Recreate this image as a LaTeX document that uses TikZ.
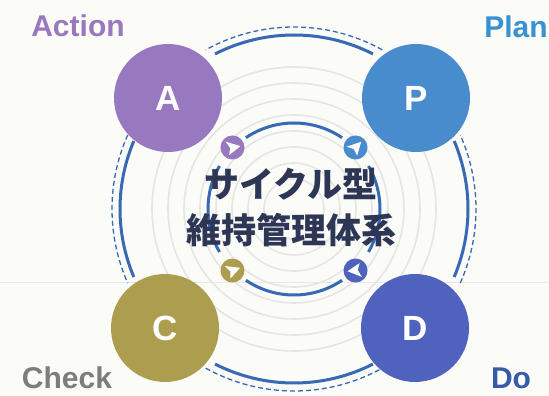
\documentclass[tikz,border=0pt]{standalone}
\usepackage{fontspec}
\setmainfont{Liberation Sans}
\newfontfamily\cjk{Noto Sans CJK JP}
\definecolor{actpurple}{RGB}{152,120,190}
\definecolor{planblue}{RGB}{72,140,205}
\definecolor{doblue}{RGB}{78,98,190}
\definecolor{checkolive}{RGB}{172,158,78}
\definecolor{ringblue}{RGB}{55,105,180}
\definecolor{titlenavy}{RGB}{45,55,85}
\definecolor{planlabel}{RGB}{55,145,210}
\definecolor{dolabel}{RGB}{55,90,170}
\definecolor{checklabel}{RGB}{125,125,125}
\definecolor{paper}{RGB}{251,251,248}
\begin{document}
\begin{tikzpicture}[x=1pt,y=1pt,
	stage/.style={circle,minimum size=108pt,inner sep=0pt,text=white,font=\bfseries\fontsize{35}{35}\selectfont},
	phase/.style={anchor=base,inner sep=0pt,font=\bfseries\fontsize{30}{30}\selectfont},
	turn/.style={circle,minimum size=24pt,inner sep=0pt},
	ring/.style={ringblue,line width=3pt},
	halo/.style={ringblue,line width=1.3pt,dash pattern=on 5pt off 3pt}]
	\useasboundingbox (0,0) rectangle (549,396);
	\fill[paper] (0,0) rectangle (549,396);
	\draw[black!9,line width=.6pt] (0,114) -- (549,114);
	
	\coordinate (O) at (294,187);
	\foreach \r in {30,46,...,142}
		\draw[black!10,line width=1.6pt] (O) circle[radius=\r pt];
	
	\foreach \a/\b in {63/117,157/203,243/297,-23/23}
		\draw[ring] (O) ++(\a:174pt) arc[start angle=\a,end angle=\b,radius=174pt];
	\foreach \a/\b in {61/119,156/204,241/299,-24/24}
		\draw[halo] (O) ++(\a:182pt) arc[start angle=\a,end angle=\b,radius=182pt];
	\foreach \a/\b in {56/124,150/210,236/304,-30/30}
		\draw[ring] (O) ++(\a:86pt) arc[start angle=\a,end angle=\b,radius=86pt];
	
	\node[stage,fill=actpurple] (A) at (168,298) {A};
	\node[stage,fill=planblue] (P) at (416,298) {P};
	\node[stage,fill=checkolive] (C) at (165,68) {C};
	\node[stage,fill=doblue] (D) at (415,68) {D};
	
	\node[phase,text=actpurple] (action) at (78,359) {Action};
	\node[phase,text=planlabel] (plan) at (516,358) {Plan};
	\node[phase,text=checklabel] (check) at (67,7) {Check};
	\node[phase,text=dolabel] (do) at (511,7) {Do};
	
	\node[turn,fill=actpurple] (ta) at ([shift={(135:87pt)}]O) {};
	\node[turn,fill=planblue] (tp) at ([shift={(45:87pt)}]O) {};
	\node[turn,fill=doblue] (td) at ([shift={(-45:87pt)}]O) {};
	\node[turn,fill=checkolive] (tc) at ([shift={(225:87pt)}]O) {};
	
	\foreach \t/\d in {ta/10,tp/45,td/185,tc/20}
		\fill[white,shift={(\t.center)},rotate=\d,scale=1.15] (7,0) -- (-5,6) -- (-2,0) -- (-4,-6) -- cycle;
	
	\node[font=\cjk\bfseries\fontsize{35}{46}\selectfont,text=titlenavy,align=center] (title) at (291,188) {サイクル型\\維持管理体系};
	
\end{tikzpicture}
\end{document}
